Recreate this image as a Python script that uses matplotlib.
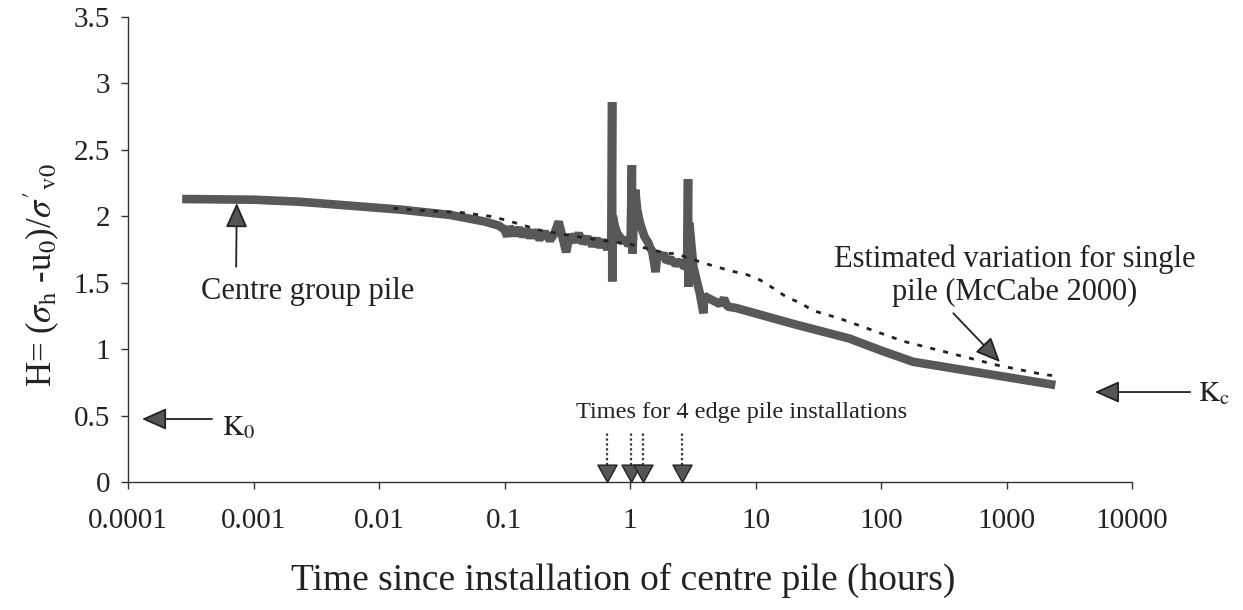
import matplotlib
matplotlib.use('Agg')
import matplotlib.pyplot as plt
from matplotlib.path import Path
from matplotlib.ticker import FixedLocator, FuncFormatter, NullLocator

plt.rcParams['font.family'] = ['Liberation Serif', 'DejaVu Serif']
plt.rcParams['mathtext.fontset'] = 'stix'

# centre group pile, H vs time (hours)
group_t = [2.7e-4, 1e-3, 2.3e-3, 5.9e-3, 1.5e-2, 3.7e-2, 7e-2, 0.09,
           0.10, 0.105, 0.11, 0.12, 0.13, 0.14, 0.15, 0.16, 0.17, 0.19,
           0.21, 0.23, 0.25, 0.27, 0.29, 0.31, 0.33, 0.36, 0.39, 0.42,
           0.46, 0.50, 0.54, 0.58, 0.62, 0.66, 0.69, 0.71,
           0.72, 0.722, 0.73, 0.76, 0.80, 0.84, 0.88, 0.92, 0.97, 1.01,
           1.035, 1.045, 1.10, 1.14, 1.2, 1.3, 1.4, 1.45, 1.5, 1.55, 1.6,
           1.65, 1.75, 1.85, 1.95, 2.1, 2.3, 2.5, 2.7, 2.85,
           2.9, 2.92, 2.97, 3.2, 3.6, 3.85, 3.9, 4.5, 5.2, 5.6, 6.0, 7.0,
           20, 56, 100, 180, 2450]
group_h = [2.13, 2.125, 2.11, 2.08, 2.05, 2.01, 1.96, 1.93,
           1.90, 1.85, 1.92, 1.86, 1.91, 1.85, 1.90, 1.84, 1.89, 1.83,
           1.88, 1.82, 1.87, 1.96, 1.84, 1.73, 1.86, 1.81, 1.87, 1.80,
           1.84, 1.78, 1.83, 1.77, 1.82, 1.75, 1.81, 1.79,
           2.86, 1.51, 2.00, 1.92, 1.86, 1.84, 1.80, 1.84, 1.78, 1.80,
           2.385, 1.72, 2.20, 2.05, 1.95, 1.85, 1.80, 1.76, 1.74, 1.66, 1.58,
           1.72, 1.69, 1.72, 1.66, 1.68, 1.64, 1.66, 1.62, 1.63,
           2.28, 1.47, 1.95, 1.62, 1.42, 1.27, 1.40, 1.37, 1.34, 1.38, 1.32, 1.31,
           1.19, 1.08, 0.99, 0.905, 0.73]

# estimated variation for single pile (McCabe 2000)
single_t = [0.013, 0.025, 0.044, 0.077, 0.104, 0.2, 0.5, 1.0, 1.97, 2.3,
            3.8, 6.3, 8.6, 10.9, 13.8, 17.8, 22.6, 28.7, 37, 47, 150, 840,
            1950, 2400]
single_h = [2.06, 2.04, 2.03, 2.00, 1.97, 1.89, 1.83, 1.79, 1.72, 1.72,
            1.65, 1.59, 1.56, 1.52, 1.46, 1.39, 1.35, 1.29, 1.26, 1.23, 1.06, 0.88,
            0.81, 0.80]

# times of the 4 edge pile installations
install_t = [0.65, 1.01, 1.28, 2.58]

x_ticks = [1e-4, 1e-3, 1e-2, 1e-1, 1, 10, 100, 1000, 10000]
y_ticks = [0, 0.5, 1, 1.5, 2, 2.5, 3, 3.5]

fig = plt.figure(figsize=(12.43, 6.10), dpi=100)
ax = fig.add_axes([0.103, 0.2098, 0.8077, 0.7623])

ax.plot(group_t, group_h, color='#585858', lw=6.2, solid_joinstyle='bevel',
        solid_capstyle='butt', zorder=3)
ax.plot(single_t, single_h, color='#222222', lw=2.0, dashes=(1.8, 3.0), zorder=4)

ax.set_xscale('log')
ax.set_xlim(1e-4, 1e4)
ax.set_ylim(0, 3.5)
ax.xaxis.set_major_locator(FixedLocator(x_ticks))
ax.xaxis.set_minor_locator(NullLocator())
ax.xaxis.set_major_formatter(FuncFormatter(lambda v, p: f"{v:g}"))
ax.yaxis.set_major_locator(FixedLocator(y_ticks))
ax.yaxis.set_major_formatter(FuncFormatter(lambda v, p: f"{v:g}"))

for s in ['top', 'right']:
    ax.spines[s].set_visible(False)
for s in ['left', 'bottom']:
    ax.spines[s].set_color('#333333')
    ax.spines[s].set_linewidth(1.0)
ax.tick_params(axis='both', direction='out', length=5, width=1, color='#333333',
               labelsize=21, labelcolor='#222222')
ax.tick_params(axis='x', pad=14)
ax.tick_params(axis='y', pad=8)

ax.set_xlabel('Time since installation of centre pile (hours)', fontsize=27,
              color='#222222', va='center')
ax.xaxis.set_label_coords(0.493, -0.211)
ax.set_ylabel(r"H= ($\sigma_{\rm h}$ -u$_0$)/$\sigma'{}_{\rm v0}$", fontsize=25,
              color='#222222', va='center')
ax.yaxis.set_label_coords(-0.0857, 0.445)

# installation arrows: dotted shafts + filled heads with tip on the axis
head = Path([(0, 0), (-0.55, 1), (0.55, 1), (0, 0)],
            [Path.MOVETO, Path.LINETO, Path.LINETO, Path.CLOSEPOLY])
ax.vlines(install_t, 0.09, 0.376, colors='#333333', linestyles=(0, (1, 1.2)),
          lw=1.6, zorder=5)
ax.plot(install_t, [0] * len(install_t), ls='none', marker=head, ms=25,
        mfc='#555555', mec='#222222', mew=1, clip_on=False, zorder=6)
ax.text(0.611, 0.1505, 'Times for 4 edge pile installations', transform=ax.transAxes,
        ha='center', va='center', fontsize=17.5, color='#222222')

arrow = dict(arrowstyle='-|>,head_length=0.72,head_width=0.32', mutation_scale=21,
             fc='#555555', ec='#222222', lw=1.3, shrinkA=0, shrinkB=0)

ax.annotate('', xy=(0.1083, 0.60), xytext=(0.1077, 0.463), xycoords='axes fraction',
            textcoords='axes fraction', arrowprops=arrow)
ax.text(0.179, 0.409, 'Centre group pile', transform=ax.transAxes, ha='center',
        va='center', fontsize=22, color='#222222')

ax.annotate('', xy=(0.8685, 0.258), xytext=(0.822, 0.363), xycoords='axes fraction',
            textcoords='axes fraction', arrowprops=arrow)
ax.text(0.883, 0.444, 'Estimated variation for single\npile (McCabe 2000)',
        transform=ax.transAxes, ha='center', va='center', fontsize=22,
        linespacing=1.15, color='#222222')

ax.annotate('', xy=(0.0139, 0.1355), xytext=(0.0837, 0.1355), xycoords='axes fraction',
            textcoords='axes fraction', arrowprops=arrow, annotation_clip=False)
ax.text(0.0936, 0.116, r"$\mathrm{K}_0$", transform=ax.transAxes, ha='left',
        va='center', fontsize=21, color='#222222')

ax.annotate('', xy=(0.963, 0.1935), xytext=(1.058, 0.1935), xycoords='axes fraction',
            textcoords='axes fraction', arrowprops=arrow, annotation_clip=False)
ax.text(1.066, 0.191, r"$\mathrm{K}_\mathrm{c}$", transform=ax.transAxes, ha='left',
        va='center', fontsize=21, color='#222222')

fig.savefig('out.png', dpi=100)
